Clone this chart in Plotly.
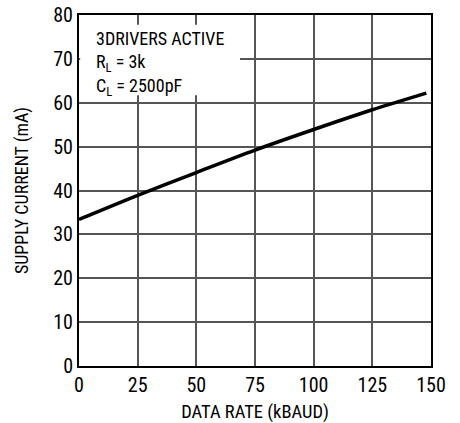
import plotly.graph_objects as go

data_rate = [0, 25, 50, 75, 100, 125, 148]
supply_current = [33.4, 38.9, 44.1, 49.2, 53.9, 58.4, 62.2]
x_ticks = [0, 25, 50, 75, 100, 125, 150]
y_ticks = [0, 10, 20, 30, 40, 50, 60, 70, 80]
note_lines = ["3DRIVERS ACTIVE", "R<sub>L</sub> = 3k", "C<sub>L</sub> = 2500pF"]

FONT = "Liberation Sans Narrow, Roboto Condensed, Arial Narrow, Liberation Sans, sans-serif"

fig = go.Figure()
fig.add_trace(go.Scatter(x=data_rate, y=supply_current, mode="lines",
                         line=dict(color="black", width=3.5, shape="spline", smoothing=0.8),
                         showlegend=False, hoverinfo="skip"))

fig.add_shape(type="rect", xref="x", yref="y", x0=0.5, x1=68.6, y0=61.7, y1=77.8,
              fillcolor="white", line=dict(width=0), layer="above")
fig.add_annotation(xref="x", yref="y", x=6.6, y=77.4, xanchor="left", yanchor="top",
                   align="left", showarrow=False, text="<br>".join(note_lines),
                   font=dict(family=FONT, size=18, color="black"))

axis_common = dict(showline=True, linecolor="black", linewidth=2, mirror=True,
                   showgrid=True, gridcolor="#555555", gridwidth=1.5,
                   ticks="", zeroline=False, automargin=False,
                   tickfont=dict(family=FONT, size=20, color="black"))

fig.update_xaxes(range=[0, 150], tickvals=x_ticks, ticktext=[str(v) for v in x_ticks],
                 title=dict(text="DATA RATE (kBAUD)", font=dict(family=FONT, size=18.5, color="black"),
                            standoff=9),
                 **axis_common)
fig.update_yaxes(range=[0, 80], tickvals=y_ticks, ticktext=[str(v) for v in y_ticks],
                 title=dict(text="SUPPLY CURRENT (mA)", font=dict(family=FONT, size=18, color="black"),
                            standoff=20),
                 **axis_common)

fig.update_layout(width=460, height=423, margin=dict(l=79, r=29, t=15, b=57),
                  plot_bgcolor="white", paper_bgcolor="white")

fig.write_html("out.html")
